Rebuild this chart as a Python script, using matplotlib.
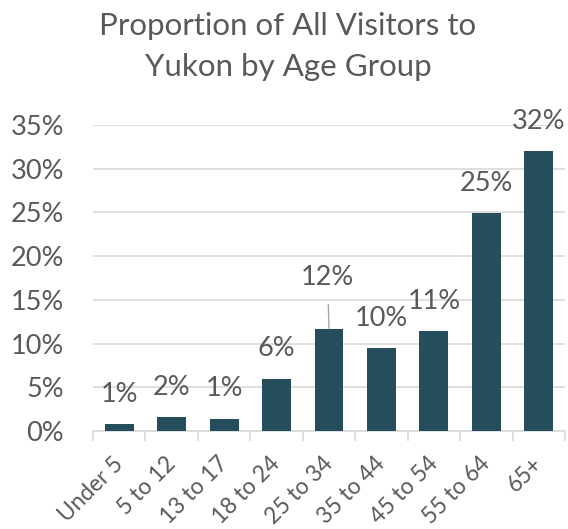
import matplotlib.pyplot as plt
import matplotlib.transforms as mtrans
import numpy as np

# data
age_groups = ['Under 5', '5 to 12', '13 to 17', '18 to 24', '25 to 34',
              '35 to 44', '45 to 54', '55 to 64', '65+']
share = [0.8, 1.6, 1.4, 6.0, 11.7, 9.5, 11.4, 24.9, 32.0]
share_labels = ['1%', '2%', '1%', '6%', '12%', '10%', '11%', '25%', '32%']
y_ticks = [0, 5, 10, 15, 20, 25, 30, 35]

plt.rcParams['font.family'] = ['Lato', 'DejaVu Sans']
txt = '#595959'
bar_col = '#264D5B'
fs = 19.5

fig = plt.figure(figsize=(5.68, 5.29), dpi=100)
ax = fig.add_axes([0.1637, 0.1853, 0.831, 0.5784])

x = np.arange(len(age_groups))
ax.bar(x, share, width=0.55, color=bar_col, zorder=3)

ax.set_xlim(-0.5, len(age_groups) - 0.5)
ax.set_ylim(0, 35)
ax.set_yticks(y_ticks)
ax.set_yticklabels(['%d%%' % t for t in y_ticks])
ax.grid(axis='y', color='#D9D9D9', linewidth=1.2, zorder=0)
ax.tick_params(axis='y', length=0, pad=21, labelsize=fs, labelcolor=txt)

# category ticks at the boundaries, labels drawn by hand
ax.set_xticks(np.arange(len(age_groups) + 1) - 0.5)
ax.set_xticklabels([])
ax.tick_params(axis='x', length=7, width=1.2, color='#D9D9D9')
lab_tr = ax.get_xaxis_transform() + mtrans.ScaledTranslation(
    0.05, -0.34, fig.dpi_scale_trans)
for i, name in enumerate(age_groups):
    ax.text(i, 0, name, transform=lab_tr, rotation=45, ha='right',
            va='baseline', rotation_mode='anchor', fontsize=16.3, color=txt)

for s in ['top', 'right', 'left']:
    ax.spines[s].set_visible(False)
ax.spines['bottom'].set_color('#D9D9D9')
ax.spines['bottom'].set_linewidth(1.2)

# data labels
for i, (v, lab) in enumerate(zip(share, share_labels)):
    if lab == '12%':
        ax.annotate(lab, xy=(i, v), xytext=(-1, 36.5), textcoords='offset points',
                    ha='center', va='center', fontsize=fs, color=txt,
                    annotation_clip=False,
                    arrowprops=dict(arrowstyle='-', color='#A6A6A6', lw=1,
                                    shrinkA=8, shrinkB=0))
    else:
        ax.annotate(lab, xy=(i, v), xytext=(0, 21.5), textcoords='offset points',
                    ha='center', va='center', fontsize=fs, color=txt,
                    annotation_clip=False)

fig.text(0.507, 0.912, 'Proportion of All Visitors to\nYukon by Age Group',
         ha='center', va='center', fontsize=22.5, color=txt, linespacing=1.58)

fig.savefig('out.png', dpi=100)
